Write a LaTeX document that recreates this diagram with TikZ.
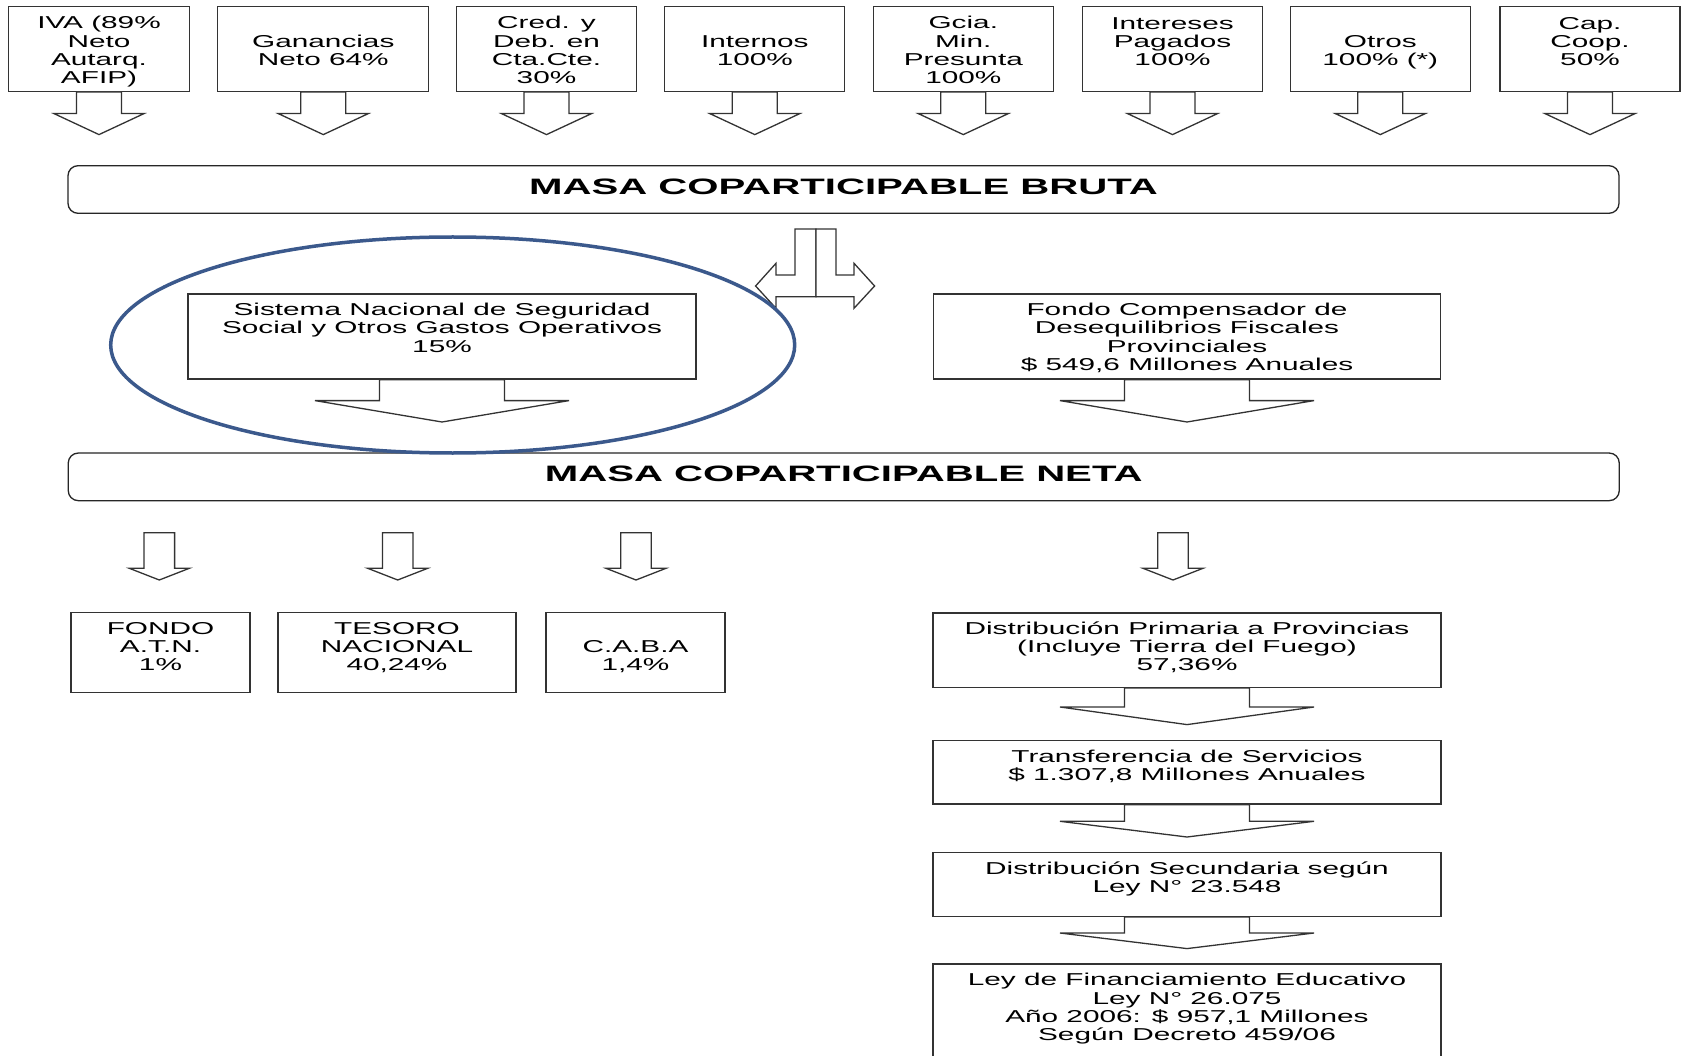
\documentclass[tikz,border=0pt]{standalone}
\usepackage{fontspec}
\setmainfont{Liberation Sans}[FakeStretch=1.73]
\usetikzlibrary{calc}

\definecolor{elipse}{RGB}{59,89,140}

\begin{document}
\begin{tikzpicture}[x=1pt,y=-1pt,
		caja/.style={draw=black!80,line width=1.3pt,fill=white,inner sep=0pt,align=center,anchor=north,
			font=\fontsize{17.2}{18.3}\selectfont},
		masa/.style={draw=black!85,line width=1.3pt,rounded corners=10pt,fill=white,
			minimum width=1551pt,minimum height=47.6pt,inner sep=0pt,text height=16pt,text depth=6pt,
			font=\fontsize{22.3}{24}\selectfont\bfseries\addfontfeature{FakeStretch=1.8}},
		linea/.style={draw=black!80,line width=1.3pt,fill=white,line join=miter},
		pics/flecha/.style n args={4}{code={
				\path[linea] (-#1,0) -- (-#1,#3) -- (-#2,#3) -- (0,#3+#4) -- (#2,#3) -- (#1,#3) -- (#1,0) -- cycle;
		}}
		]
		
		\useasboundingbox (0,0) rectangle (1683,1056);
		\fill[white] (0,0) rectangle (1683,1056);
		\clip (0,0) rectangle (1683,1056);
		
		% impuestos
		\foreach \cx/\w/\th/\td/\nom/\txt in {
			99/181/77.5/7.5/iva/{IVA (89\%\\Neto\\Autarq.\\AFIP)},
			323.3/211/59.3/25.7/gan/{Ganancias\\Neto 64\%},
			546.5/180/77.5/7.5/cred/{Cred. y\\Deb. en\\Cta.Cte.\\30\%},
			754.8/180/59.3/25.7/int/{Internos\\100\%},
			963.3/180/77.5/7.5/gcia/{Gcia.\\Min.\\Presunta\\100\%},
			1172.5/180/59.3/25.7/inter/{Intereses\\Pagados\\100\%},
			1380.3/180/59.3/25.7/otros/{Otros\\100\% (*)},
			1590/180/59.3/25.7/cap/{Cap.\\Coop.\\50\%}} {
			\node[caja,minimum width=\w pt,text height=\th pt,text depth=\td pt] (\nom) at (\cx,5.7) {\txt};
			\pic at (\nom.south) {flecha={22.5}{45}{21.6}{21}};
		}
		
		\node[masa] (bruta) at (843.5,189.5) {MASA COPARTICIPABLE BRUTA};
		
		% reparto
		\coordinate (reparto) at (816,229);
		\path[linea] (reparto) -- ++(-21,0) -- ++(0,46) -- ++(-19,0) -- ++(0,-11.7) -- ++(-20.4,22.7)
			-- ++(20.4,22.3) -- ++(0,-11.6) -- ++(40,0) -- cycle;
		\path[linea] (reparto) -- ++(20,0) -- ++(0,46) -- ++(18,0) -- ++(0,-11.7) -- ++(20.6,22.7)
			-- ++(-20.6,22.3) -- ++(0,-11.6) -- ++(-38,0) -- cycle;
		
		\node[caja,minimum width=508pt,text height=58.3pt,text depth=26.7pt] (snss) at (442,293.3)
			{Sistema Nacional de Seguridad\\Social y Otros Gastos Operativos\\15\%};
		\node[caja,minimum width=507pt,text height=76.6pt,text depth=8.4pt] (fondo) at (1187,293.3)
			{Fondo Compensador de\\Desequilibrios Fiscales\\Provinciales\\\$ 549,6 Millones Anuales};
		\pic at (snss.south) {flecha={62.5}{127}{21}{21.4}};
		\pic at (fondo.south) {flecha={62.5}{127}{21}{21.4}};
		
		\node[masa] (neta) at (843.75,476.85) {MASA COPARTICIPABLE NETA};
		
		\foreach \cx in {159.3,397.7,636,1173}
			\pic at (\cx,532.7) {flecha={15.3}{30}{35.6}{11.7}};
		
		% destinos
		\node[caja,minimum width=179pt,text height=58.3pt,text depth=22pt] (atn) at (160.5,611.7) {FONDO\\A.T.N.\\1\%};
		\node[caja,minimum width=238pt,text height=58.3pt,text depth=22pt] (tesoro) at (397,611.7) {TESORO\\NACIONAL\\40,24\%};
		\node[caja,minimum width=179pt,text height=58.3pt,text depth=22pt] (caba) at (635.5,611.7) {C.A.B.A\\1,4\%};
		
		\node[caja,minimum width=508pt,text height=57.7pt,text depth=16.7pt] (primaria) at (1187,612.3)
			{Distribución Primaria a Provincias\\(Incluye Tierra del Fuego)\\57,36\%};
		\node[caja,minimum width=508pt,text height=40pt,text depth=23.3pt] (servicios) at (1187,740)
			{Transferencia de Servicios\\\$ 1.307,8 Millones Anuales};
		\node[caja,minimum width=508pt,text height=40pt,text depth=24pt] (secundaria) at (1187,851.7)
			{Distribución Secundaria según\\Ley N° 23.548};
		\node[caja,minimum width=508pt,text height=76.7pt,text depth=40pt] (educativo) at (1187,963.3)
			{Ley de Financiamiento Educativo\\Ley N° 26.075\\Año 2006: \$ 957,1 Millones\\Según Decreto 459/06};
		\pic at (primaria.south) {flecha={62.5}{127}{19}{17.6}};
		\pic at (servicios.south) {flecha={62.5}{127}{16.7}{15.7}};
		\pic at (secundaria.south) {flecha={62.5}{127}{16}{15.6}};
		
		\draw[elipse,line width=3.5pt] (452.7,345) ellipse [x radius=342, y radius=108];
		
\end{tikzpicture}
\end{document}
